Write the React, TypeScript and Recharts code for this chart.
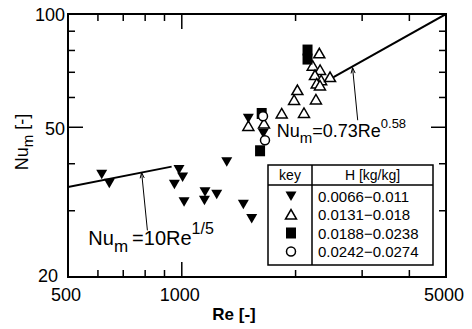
import React from 'react';
import { ComposedChart, Scatter, XAxis, YAxis, ReferenceLine, ReferenceDot } from 'recharts';

// Re [-], Nu_m [-] pairs, one list per humidity range
const lowH = [
  [614, 37.5], [643, 35.5], [983, 38.6], [1005, 36.9], [956, 35.3], [1014, 31.7],
  [1152, 33.7], [1148, 32.0], [1237, 33.2], [1315, 40.5], [1455, 31.2], [1531, 28.6],
  [1500, 52.8], [1643, 48.2],
];
const midH = [
  [1500, 50.4], [1650, 51.2], [1838, 54.4], [2105, 54.6], [1982, 59.1], [2022, 62.8],
  [2264, 59.3], [2311, 78.6], [2220, 72.9], [2322, 71.0], [2251, 68.8], [2337, 66.7],
  [2467, 68.0], [2275, 65.4], [2320, 64.6],
];
const highH = [[2151, 80.2], [2151, 75.9], [1627, 54.4], [1611, 43.3]];
const topH = [[1660, 46.2], [1640, 53.5]];

// correlation lines (end points)
const fitLow = [[500, 34.7], [940, 39.3]];
const fitHigh = [[2520, 68], [5000, 100]];

const xMajor = [500, 1000, 5000];
const xMinor = [600, 700, 800, 900, 2000, 3000, 4000];
const yMajor = [20, 50, 100];
const yMinor = [30, 40, 60, 70, 80, 90];

const legendRows = ['0.0066−0.011', '0.0131−0.018', '0.0188−0.0238', '0.0242−0.0274'];

const W = 456;
const H = 321;
const M = { top: 14, right: 18, bottom: 0, left: 0 };
const Y_AXIS_W = 60;
const X_AXIS_H = 44;
const PLOT_X = M.left + Y_AXIS_W;
const PLOT_Y = M.top;
const PLOT_W = W - M.left - M.right - Y_AXIS_W;
const PLOT_H = H - M.top - M.bottom - X_AXIS_H;
const FONT = '"Liberation Sans", Arial, sans-serif';

const toPts = (arr: number[][]) => arr.map(([re, nu]) => ({ re, nu }));

// same log mapping as the chart axes, used only for the top/right frame ticks
const fx = (re: number) => PLOT_X + (PLOT_W * Math.log10(re / 500)) / Math.log10(5000 / 500);
const fy = (nu: number) => PLOT_Y + PLOT_H - (PLOT_H * Math.log10(nu / 20)) / Math.log10(100 / 20);

const DownTri = (p: any) => (
  <path d={`M${p.cx - 5.5},${p.cy - 4.5}L${p.cx + 5.5},${p.cy - 4.5}L${p.cx},${p.cy + 5}Z`} fill="#000" />
);
const UpTri = (p: any) => (
  <path d={`M${p.cx - 5.5},${p.cy + 4.5}L${p.cx + 5.5},${p.cy + 4.5}L${p.cx},${p.cy - 5}Z`} fill="#fff" stroke="#000" strokeWidth={1.5} />
);
const Square = (p: any) => <rect x={p.cx - 5} y={p.cy - 5.5} width={10} height={11} fill="#000" />;
const Circle = (p: any) => <circle cx={p.cx} cy={p.cy} r={4.5} fill="#fff" stroke="#000" strokeWidth={1.5} />;
const NoDot = () => null;

const tickLen = (v: number, major: number[]) => (major.includes(v) ? 15 : 7);

const BottomTick = (p: any) => {
  const v = p.payload.value;
  const edge = v === 500 || v === 5000;
  return (
    <g>
      {!edge && <line x1={p.x} x2={p.x} y1={p.y} y2={p.y - tickLen(v, xMajor)} stroke="#000" strokeWidth={1.5} />}
      {xMajor.includes(v) && (
        <text x={p.x - 2} y={p.y + 24} textAnchor="middle" fontSize={18} fontFamily={FONT} fill="#000">{v}</text>
      )}
    </g>
  );
};
const LeftTick = (p: any) => {
  const v = p.payload.value;
  const edge = v === 20 || v === 100;
  return (
    <g>
      {!edge && <line x1={p.x} x2={p.x + tickLen(v, yMajor)} y1={p.y} y2={p.y} stroke="#000" strokeWidth={1.5} />}
      {yMajor.includes(v) && (
        <text x={p.x - (v === 20 ? 10 : 3)} y={p.y + (v === 20 ? -1 : 1)} dy="0.35em" textAnchor="end" fontSize={18} fontFamily={FONT} fill="#000">{v}</text>
      )}
    </g>
  );
};

const Arrow = (p: any) => {
  const { x1, y1, x2, y2 } = p;
  const a = Math.atan2(y2 - y1, x2 - x1);
  const s = 6;
  const h1 = [x2 - s * Math.cos(a - 0.35), y2 - s * Math.sin(a - 0.35)];
  const h2 = [x2 - s * Math.cos(a + 0.35), y2 - s * Math.sin(a + 0.35)];
  return (
    <g stroke="#000" strokeWidth={1} fill="none">
      <line x1={x1} y1={y1} x2={x2} y2={y2} />
      <polyline points={`${h1[0]},${h1[1]} ${x2},${y2} ${h2[0]},${h2[1]}`} />
    </g>
  );
};

const EqLow = (p: any) => (
  <text x={p.cx} y={p.cy} fontSize={20} fontFamily={FONT} fill="#000">
    Nu<tspan dy={7} fontSize={17}>m</tspan>
    <tspan dy={-7} dx={4}>=10Re</tspan>
    <tspan dy={-11} fontSize={16}>1/5</tspan>
  </text>
);
const EqHigh = (p: any) => (
  <text x={p.cx} y={p.cy} fontSize={18} fontFamily={FONT} fill="#000">
    Nu<tspan dy={6} fontSize={15}>m</tspan>
    <tspan dy={-6}>=0.73Re</tspan>
    <tspan dy={-9} fontSize={13}>0.58</tspan>
  </text>
);

const Frame = () => (
  <g stroke="#000" fill="none">
    <rect x={PLOT_X} y={PLOT_Y} width={PLOT_W} height={PLOT_H} strokeWidth={2} />
    {[1000, ...xMinor].map((v) => (
      <line key={`t${v}`} x1={fx(v)} x2={fx(v)} y1={PLOT_Y} y2={PLOT_Y + tickLen(v, xMajor)} strokeWidth={1.5} />
    ))}
    {[50, ...yMinor].map((v) => (
      <line key={`r${v}`} x1={PLOT_X + PLOT_W} x2={PLOT_X + PLOT_W - tickLen(v, yMajor)} y1={fy(v)} y2={fy(v)} strokeWidth={1.5} />
    ))}
  </g>
);

const Legend = () => {
  const bx = 260, by = 165, bw = 165, bh = 100, col = 44, head = 20;
  const rowY = (i: number) => by + head + 11 + i * 18.5;
  const sym = [DownTri, UpTri, Square, Circle];
  return (
    <g>
      <rect x={bx} y={by} width={bw} height={bh} fill="#fff" stroke="#000" strokeWidth={1.5} />
      <line x1={bx + col} x2={bx + col} y1={by} y2={by + bh} stroke="#000" strokeWidth={1.5} />
      <line x1={bx} x2={bx + bw} y1={by + head} y2={by + head} stroke="#000" strokeWidth={1.5} />
      <text x={bx + col / 2} y={by + 15} textAnchor="middle" fontSize={14} fontFamily={FONT}>key</text>
      <text x={bx + col + (bw - col) / 2} y={by + 15} textAnchor="middle" fontSize={14} fontFamily={FONT}>H [kg/kg]</text>
      {legendRows.map((t, i) => {
        const S = sym[i];
        return (
          <g key={t}>
            <S cx={bx + col / 2 + 1} cy={rowY(i)} />
            <text x={bx + col + 6} y={rowY(i) + 5.5} fontSize={15} fontFamily={FONT}>{t}</text>
          </g>
        );
      })}
    </g>
  );
};

export default function App() {
  return (
    <div style={{ position: 'relative', width: W, height: 329, marginTop: -8, background: '#fff' }}>
      <ComposedChart width={W} height={H} margin={M}>
        <XAxis dataKey="re" type="number" scale="log" domain={[500, 5000]} allowDataOverflow
          ticks={[...xMajor, ...xMinor]} interval={0} tickSize={0} tickMargin={0} tickLine={false}
          tick={BottomTick} height={X_AXIS_H} axisLine={{ stroke: '#000', strokeWidth: 2 }} />
        <YAxis dataKey="nu" type="number" scale="log" domain={[20, 100]} allowDataOverflow
          ticks={[...yMajor, ...yMinor]} interval={0} tickSize={0} tickMargin={0} tickLine={false}
          tick={LeftTick} width={Y_AXIS_W} axisLine={{ stroke: '#000', strokeWidth: 2 }} />

        <Scatter data={toPts(fitLow)} dataKey="nu" shape={NoDot}
          line={{ stroke: '#000', strokeWidth: 2 }} isAnimationActive={false} />
        <Scatter data={toPts(fitHigh)} dataKey="nu" shape={NoDot}
          line={{ stroke: '#000', strokeWidth: 2 }} isAnimationActive={false} />

        <Scatter data={toPts(midH)} dataKey="nu" shape={UpTri} isAnimationActive={false} />
        <Scatter data={toPts(highH)} dataKey="nu" shape={Square} isAnimationActive={false} />
        <Scatter data={toPts(lowH)} dataKey="nu" shape={DownTri} isAnimationActive={false} />
        <Scatter data={toPts(topH)} dataKey="nu" shape={Circle} isAnimationActive={false} />

        <ReferenceLine segment={[{ x: 811, y: 26.6 }, { x: 783, y: 37.9 }]} shape={Arrow} />
        <ReferenceLine segment={[{ x: 2920, y: 52.2 }, { x: 2830, y: 72 }]} shape={Arrow} />
        <ReferenceDot x={566} y={24.3} r={0} shape={EqLow} />
        <ReferenceDot x={1783} y={47.2} r={0} shape={EqHigh} />
      </ComposedChart>
      <svg width={W} height={329} style={{ position: 'absolute', left: 0, top: 0, pointerEvents: 'none' }}>
        <Frame />
        <Legend />
        <text x={226} y={320} textAnchor="middle" fontSize={17} fontWeight="bold" fontFamily={FONT}>Re [-]</text>
        <text transform="translate(20,142) rotate(-90)" textAnchor="middle" fontSize={18} fontFamily={FONT}>
          Nu<tspan dy={5} fontSize={15}>m</tspan><tspan dy={-5}> [-]</tspan>
        </text>
      </svg>
    </div>
  );
}
